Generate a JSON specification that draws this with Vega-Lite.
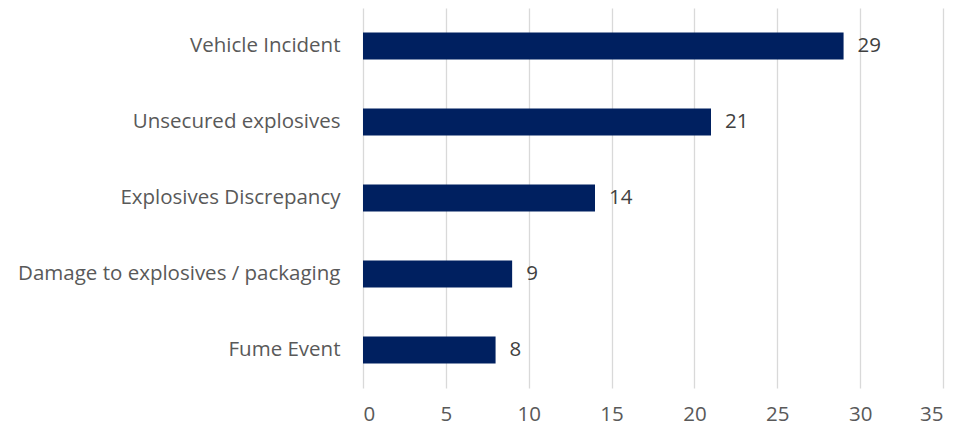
{
  "$schema": "https://vega.github.io/schema/vega-lite/v6.json",
  "width": 580,
  "height": 380,
  "autosize": "none",
  "padding": {"left": 363, "top": 8, "right": 14, "bottom": 42},
  "background": "white",
  "config": {"view": {"stroke": null}, "font": "Open Sans"},
  "data": {
    "values": [
      {"category": "Vehicle Incident", "count": 29},
      {"category": "Unsecured explosives", "count": 21},
      {"category": "Explosives Discrepancy", "count": 14},
      {"category": "Damage to explosives / packaging", "count": 9},
      {"category": "Fume Event", "count": 8}
    ]
  },
  "encoding": {
    "y": {
      "field": "category",
      "type": "nominal",
      "sort": null,
      "scale": {"paddingInner": 0.645, "paddingOuter": 0.3225},
      "axis": {
        "title": null,
        "domain": false,
        "ticks": false,
        "labelFontSize": 20.5,
        "labelColor": "#595959",
        "labelPadding": 23,
        "labelLimit": 400,
        "labelFont": "Open Sans"
      }
    },
    "x": {
      "field": "count",
      "type": "quantitative",
      "scale": {"domain": [0, 35], "nice": false},
      "axis": {
        "title": null,
        "values": [0, 5, 10, 15, 20, 25, 30, 35],
        "domain": false,
        "ticks": false,
        "grid": true,
        "gridColor": "#d9d9d9",
        "gridWidth": 1.3,
        "labelFontSize": 20.5,
        "labelColor": "#595959",
        "labelPadding": 16,
        "labelFont": "Open Sans"
      }
    }
  },
  "layer": [
    {"mark": {"type": "bar", "color": "#002060"}},
    {
      "mark": {"type": "text", "align": "left", "baseline": "middle", "dx": 14, "fontSize": 20.5, "color": "#404040", "font": "Open Sans"},
      "encoding": {"text": {"field": "count", "type": "quantitative"}}
    }
  ]
}
